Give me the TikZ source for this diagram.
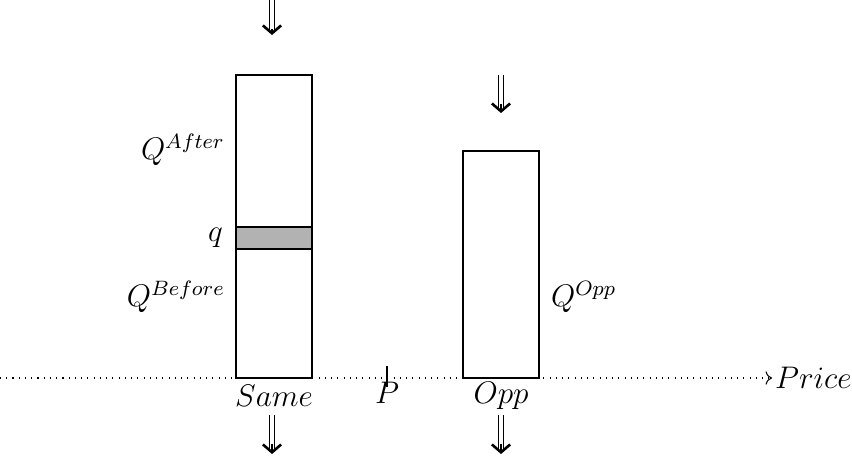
\documentclass[tikz,border=0pt]{standalone}
\usetikzlibrary{positioning,arrows.meta}

\begin{document}
\begin{tikzpicture}[x=0.0135cm,y=-0.0135cm,
    bar/.style={draw,line width=0.5pt},
    flow/.style={double,double distance=1.4pt,line width=0.4pt,shorten >=0.6pt},
    head/.style={line width=0.4pt,shorten <=11pt,
      -{Straight Barb[length=3pt,width=7pt,line width=1pt]}},
    lbl/.style={inner sep=1pt,font=\large}]
    \useasboundingbox (0,0) rectangle (852,461);

    % axe des prix
    \coordinate (start) at (0,378);
    \coordinate (stop) at (772,378);
    \draw[dotted,->] (start) -- (stop) node[right,lbl] (price) {$Price$};

    % files d'attente
    \draw[bar] (236,75) rectangle (312,378);
    \draw[bar,fill=gray!60] (236,227) rectangle (312,249);
    \draw[bar] (463,151) rectangle (539,378);

    % prix P
    \coordinate (ptop) at (387,366);
    \coordinate (pbot) at (387,387);
    \draw (ptop) -- (pbot);
    \node[lbl] (plbl) at (387,393) {$P$};

    % etiquettes
    \node[lbl,left] (qafter) at (228,150) {$Q^{After}$};
    \node[lbl,left] (qq) at (226,238) {$q$};
    \node[lbl,left] (qbefore) at (228,297) {$Q^{Before}$};
    \node[lbl,right] (qopp) at (548,297) {$Q^{Opp}$};
    \node[lbl] (same) at (274,396) {$Same$};
    \node[lbl] (opp) at (501,396) {$Opp$};

    % fleches
    \coordinate (in1) at (272,0);   \coordinate (in2) at (272,35);
    \coordinate (op1) at (501,75);  \coordinate (op2) at (501,113);
    \coordinate (sa1) at (272,415); \coordinate (sa2) at (272,454);
    \coordinate (oo1) at (501,415); \coordinate (oo2) at (501,454);
    \foreach \a/\b in {in1/in2,op1/op2,sa1/sa2,oo1/oo2} {
        \draw[flow] (\a) -- (\b);
        \draw[head] (\a) -- (\b);
    }

\end{tikzpicture}
\end{document}
